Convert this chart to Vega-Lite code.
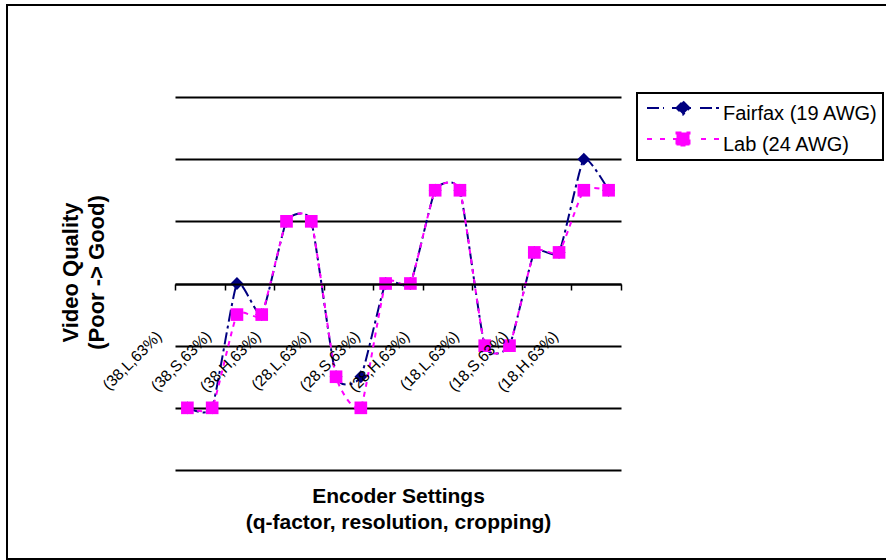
{
  "$schema": "https://vega.github.io/schema/vega-lite/v6.json",
  "width": 446,
  "height": 373,
  "autosize": "none",
  "padding": {"left": 175, "top": 97, "right": 265, "bottom": 90},
  "background": "white",
  "config": {"view": {"stroke": null}, "font": "Liberation Sans"},
  "data": {
    "values": [
      {"pos": 1, "setting": "(38,L,63%)", "Fairfax (19 AWG)": 1, "Lab (24 AWG)": 1},
      {"pos": 2, "setting": null, "Fairfax (19 AWG)": 1, "Lab (24 AWG)": 1},
      {"pos": 3, "setting": "(38,S,63%)", "Fairfax (19 AWG)": 3, "Lab (24 AWG)": 2.5},
      {"pos": 4, "setting": null, "Fairfax (19 AWG)": 2.5, "Lab (24 AWG)": 2.5},
      {"pos": 5, "setting": "(38,H,63%)", "Fairfax (19 AWG)": 4, "Lab (24 AWG)": 4},
      {"pos": 6, "setting": null, "Fairfax (19 AWG)": 4, "Lab (24 AWG)": 4},
      {"pos": 7, "setting": "(28,L,63%)", "Fairfax (19 AWG)": 1.5, "Lab (24 AWG)": 1.5},
      {"pos": 8, "setting": null, "Fairfax (19 AWG)": 1.5, "Lab (24 AWG)": 1},
      {"pos": 9, "setting": "(28,S,63%)", "Fairfax (19 AWG)": 3, "Lab (24 AWG)": 3},
      {"pos": 10, "setting": null, "Fairfax (19 AWG)": 3, "Lab (24 AWG)": 3},
      {"pos": 11, "setting": "(28,H,63%)", "Fairfax (19 AWG)": 4.5, "Lab (24 AWG)": 4.5},
      {"pos": 12, "setting": null, "Fairfax (19 AWG)": 4.5, "Lab (24 AWG)": 4.5},
      {"pos": 13, "setting": "(18,L,63%)", "Fairfax (19 AWG)": 2, "Lab (24 AWG)": 2},
      {"pos": 14, "setting": null, "Fairfax (19 AWG)": 2, "Lab (24 AWG)": 2},
      {"pos": 15, "setting": "(18,S,63%)", "Fairfax (19 AWG)": 3.5, "Lab (24 AWG)": 3.5},
      {"pos": 16, "setting": null, "Fairfax (19 AWG)": 3.5, "Lab (24 AWG)": 3.5},
      {"pos": 17, "setting": "(18,H,63%)", "Fairfax (19 AWG)": 5, "Lab (24 AWG)": 4.5},
      {"pos": 18, "setting": null, "Fairfax (19 AWG)": 4.5, "Lab (24 AWG)": 4.5}
    ]
  },
  "transform": [
    {"fold": ["Fairfax (19 AWG)", "Lab (24 AWG)"], "as": ["series", "value"]}
  ],
  "layer": [
    {
      "data": {"values": [{"frame": "outer"}]},
      "mark": {"type": "rect", "fillOpacity": 0, "stroke": "black", "strokeWidth": 2},
      "encoding": {
        "x": {"datum": -6.28, "type": "quantitative", "scale": {"domain": [0.5, 18.5], "nice": false, "zero": false}},
        "x2": {"datum": 30},
        "y": {"datum": 7.48, "type": "quantitative", "scale": {"domain": [0, 6], "nice": false, "zero": false}},
        "y2": {"datum": -1.432}
      }
    },
    {
      "mark": {"type": "line", "interpolate": "cardinal", "tension": 0.5, "strokeWidth": 2},
      "encoding": {
        "x": {
          "field": "pos", "type": "quantitative",
          "scale": {"domain": [0.5, 18.5], "nice": false, "zero": false},
          "axis": {
            "title": ["Encoder Settings", "(q-factor, resolution, cropping)"],
            "values": [0.5, 1.5, 2.5, 3.5, 4.5, 5.5, 6.5, 7.5, 8.5, 9.5, 10.5, 11.5, 12.5, 13.5, 14.5, 15.5, 16.5, 17.5, 18.5],
            "labels": false, "grid": false,
            "domainColor": "black", "domainWidth": 2,
            "tickColor": "black", "tickWidth": 1.5, "tickSize": 6,
            "offset": -186,
            "titleFont": "Liberation Sans", "titleFontSize": 21, "titleFontWeight": "bold", "titleColor": "black",
            "titleLineHeight": 26, "titleAlign": "center", "titleBaseline": "middle",
            "titleX": 223, "titleY": 212,
            "zindex": 1
          }
        },
        "y": {
          "field": "value", "type": "quantitative",
          "scale": {"domain": [0, 6], "nice": false, "zero": false},
          "axis": {
            "title": ["Video Quality", "(Poor -> Good)"],
            "values": [0, 1, 2, 3, 4, 5, 6],
            "grid": true, "gridColor": "black", "gridWidth": 2, "gridOpacity": 1,
            "labels": false, "ticks": false, "domain": false,
            "titleFont": "Liberation Sans", "titleFontSize": 22, "titleFontWeight": "bold", "titleColor": "black",
            "titleLineHeight": 26, "titleAngle": -90, "titleAlign": "center", "titleBaseline": "middle",
            "titleX": -105, "titleY": 175
          }
        },
        "color": {
          "field": "series", "type": "nominal",
          "scale": {"domain": ["Fairfax (19 AWG)", "Lab (24 AWG)"], "range": ["#000080", "#FF00FF"]},
          "legend": {
            "title": null, "orient": "none", "legendX": 462, "legendY": -4,
            "padding": 5, "strokeColor": "black", "fillColor": "white",
            "symbolSize": 100, "symbolStrokeWidth": 2, "symbolOffset": 31,
            "labelOffset": 30, "labelFont": "Liberation Sans", "labelFontSize": 20, "labelColor": "black",
            "labelBaseline": "middle", "rowPadding": 4, "labelLimit": 300,
            "encode": {
              "legend": {"update": {"strokeWidth": {"value": 2}}},
              "labels": {"update": {"dy": {"value": 6}}},
              "symbols": {
                "update": {
                  "shape": [
                    {"test": "datum.value === 'Fairfax (19 AWG)'", "value": "M-7.2,0L-3.8,0M-2.2,0L2.2,0M3.4,0L7.2,0M0,-1.3L1.3,0L0,1.3L-1.3,0Z"},
                    {"value": "M-7.2,0L-6.2,0M-4.6,0L-3.6,0M-2,0L2,0M3.6,0L4.6,0M6.2,0L7.2,0M-1.3,-1.3L1.3,-1.3L1.3,1.3L-1.3,1.3Z"}
                  ],
                  "fill": [{"test": "datum.value === 'Fairfax (19 AWG)'", "value": "#000080"}, {"value": "#FF00FF"}],
                  "stroke": [{"test": "datum.value === 'Fairfax (19 AWG)'", "value": "#000080"}, {"value": "#FF00FF"}],
                  "strokeWidth": {"value": 2},
                  "opacity": {"value": 1},
                  "fillOpacity": {"value": 1}
                }
              }
            }
          }
        },
        "strokeDash": {
          "field": "series", "type": "nominal",
          "scale": {"domain": ["Fairfax (19 AWG)", "Lab (24 AWG)"], "range": [[12, 4, 3, 4], [5, 5]]},
          "legend": null
        }
      }
    },
    {
      "transform": [{"filter": "datum.series === 'Fairfax (19 AWG)'"}],
      "mark": {"type": "point", "shape": "diamond", "filled": true, "size": 165, "color": "#000080", "opacity": 1},
      "encoding": {
        "x": {"field": "pos", "type": "quantitative", "scale": {"domain": [0.5, 18.5], "nice": false, "zero": false}},
        "y": {"field": "value", "type": "quantitative", "scale": {"domain": [0, 6], "nice": false, "zero": false}}
      }
    },
    {
      "transform": [{"filter": "datum.series === 'Lab (24 AWG)'"}],
      "mark": {"type": "point", "shape": "square", "filled": true, "size": 160, "color": "#FF00FF", "opacity": 1},
      "encoding": {
        "x": {"field": "pos", "type": "quantitative", "scale": {"domain": [0.5, 18.5], "nice": false, "zero": false}},
        "y": {"field": "value", "type": "quantitative", "scale": {"domain": [0, 6], "nice": false, "zero": false}}
      }
    },
    {
      "transform": [{"filter": "datum.series === 'Lab (24 AWG)' && datum.setting"}],
      "mark": {"type": "text", "angle": -45, "align": "right", "baseline": "middle", "dx": -20, "dy": -20, "fontSize": 15.5, "font": "Liberation Sans", "color": "black"},
      "encoding": {
        "x": {"field": "pos", "type": "quantitative", "scale": {"domain": [0.5, 18.5], "nice": false, "zero": false}},
        "y": {"datum": 2.19, "type": "quantitative", "scale": {"domain": [0, 6], "nice": false, "zero": false}},
        "text": {"field": "setting"}
      }
    }
  ]
}
